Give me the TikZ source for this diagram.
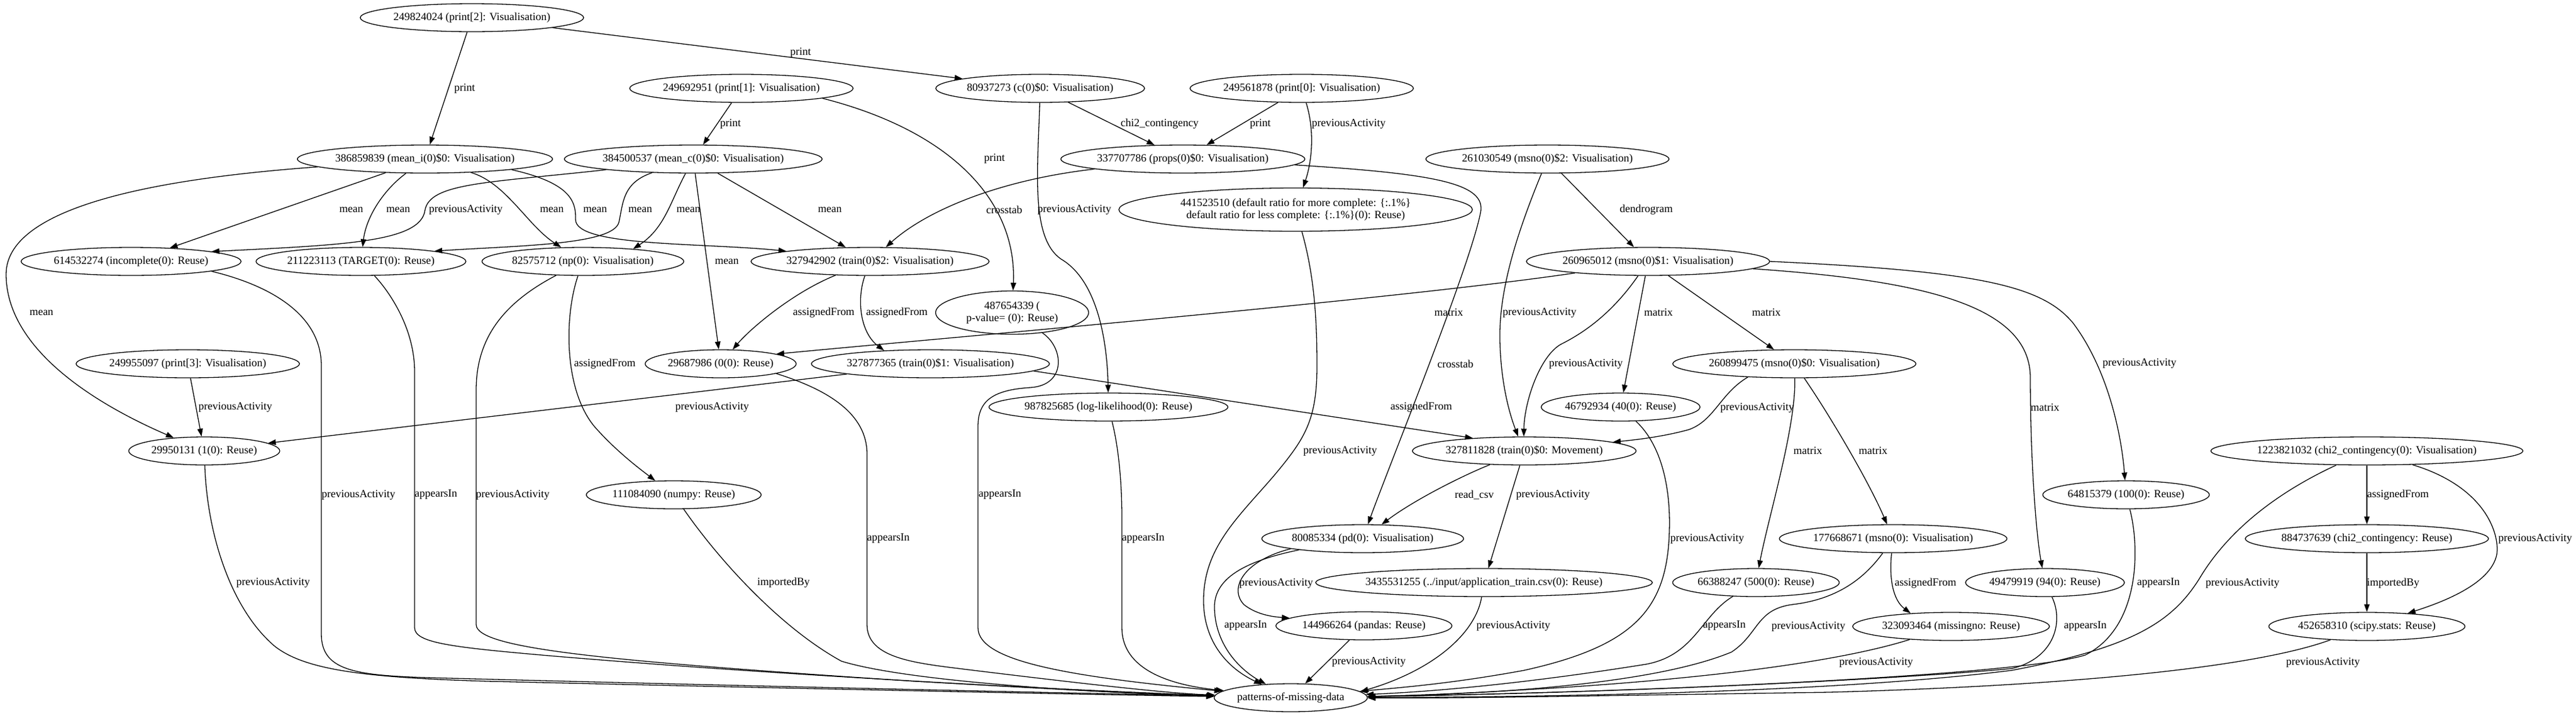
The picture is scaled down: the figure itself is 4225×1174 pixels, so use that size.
\documentclass[tikz,border=0pt]{standalone}
\usepackage{fontspec}
\setmainfont{Liberation Serif}
\usetikzlibrary{arrows.meta,shapes.geometric}

\begin{document}
\begin{tikzpicture}[x=0.02cm, y=-0.02cm,
	entity/.style={draw, ellipse, line width=0.74pt, inner xsep=0.5pt, inner ysep=1pt, minimum height=0.92cm, font=\fontsize{10.24}{11.4}\selectfont},
	twoline/.style={entity, align=center, minimum height=1.42cm},
	rel/.style={-{Triangle[length=7.3pt,width=5.1pt]}, line width=0.74pt},
	lbl/.style={inner sep=0pt, font=\fontsize{10.24}{11.4}\selectfont}]
	\useasboundingbox (0,0) rectangle (4225,1174);
	% Nodes:
	\node[entity] (pr2) at (774,29) {249824024 (print[2]: Visualisation)};
	\node[entity] (pr1) at (1216,145) {249692951 (print[1]: Visualisation)};
	\node[entity] (c0) at (1706,145) {80937273 (c(0)\$0: Visualisation)};
	\node[entity] (pr0) at (2135,145) {249561878 (print[0]: Visualisation)};
	\node[entity] (meani) at (697,261) {386859839 (mean\_i(0)\$0: Visualisation)};
	\node[entity] (meanc) at (1137,261) {384500537 (mean\_c(0)\$0: Visualisation)};
	\node[entity] (props) at (1940,261) {337707786 (props(0)\$0: Visualisation)};
	\node[entity] (msno2) at (2538,261) {261030549 (msno(0)\$2: Visualisation)};
	\node[twoline, minimum width=11.6cm] (ratio) at (2125,344) {441523510 (default ratio for more complete: \{:.1\%\}\\default ratio for less complete: \{:.1\%\}(0): Reuse)};
	\node[entity] (incompl) at (215,429) {614532274 (incomplete(0): Reuse)};
	\node[entity] (target) at (592,429) {211223113 (TARGET(0): Reuse)};
	\node[entity] (np) at (956,429) {82575712 (np(0): Visualisation)};
	\node[entity] (train2) at (1427,429) {327942902 (train(0)\$2: Visualisation)};
	\node[entity] (msno1) at (2703,429) {260965012 (msno(0)\$1: Visualisation)};
	\node[twoline, minimum width=5.02cm] (pval) at (1660,513) {487654339 (\\p-value= (0): Reuse)};
	\node[entity] (pr3) at (308,597) {249955097 (print[3]: Visualisation)};
	\node[entity] (zero) at (1182,597) {29687986 (0(0): Reuse)};
	\node[entity] (train1) at (1526,597) {327877365 (train(0)\$1: Visualisation)};
	\node[entity] (msno0) at (2943,597) {260899475 (msno(0)\$0: Visualisation)};
	\node[entity] (n40) at (2658,668) {46792934 (40(0): Reuse)};
	\node[entity] (loglik) at (1818,668) {987825685 (log-likelihood(0): Reuse)};
	\node[entity] (one) at (335,740) {29950131 (1(0): Reuse)};
	\node[entity] (train0) at (2500,740) {327811828 (train(0)\$0: Movement)};
	\node[entity] (chiv) at (3882,740) {1223821032 (chi2\_contingency(0): Visualisation)};
	\node[entity] (n100) at (3487,812) {64815379 (100(0): Reuse)};
	\node[entity] (numpy) at (1105,812) {111084090 (numpy: Reuse)};
	\node[entity] (pd) at (2235,884) {80085334 (pd(0): Visualisation)};
	\node[entity] (msnov) at (3105,884) {177668671 (msno(0): Visualisation)};
	\node[entity] (chir) at (3882,884) {884737639 (chi2\_contingency: Reuse)};
	\node[entity] (csv) at (2434,956) {3435531255 (../input/application\_train.csv(0): Reuse)};
	\node[entity] (n500) at (2880,956) {66388247 (500(0): Reuse)};
	\node[entity] (n94) at (3354,956) {49479919 (94(0): Reuse)};
	\node[entity] (pandas) at (2237,1027) {144966264 (pandas: Reuse)};
	\node[entity] (missingno) at (3200,1028) {323093464 (missingno: Reuse)};
	\node[entity] (scipy) at (3882,1028) {452658310 (scipy.stats: Reuse)};
	\node[entity] (pmd) at (2117,1145) {patterns-of-missing-data};
	% Edges:
	\draw[rel] (pr2) -- (meani) node[lbl] (e1) at (762,145) {print};
	\draw[rel] (pr2) -- (c0) node[lbl] (e2) at (1313,86) {print};
	\draw[rel] (pr1) -- (meanc) node[lbl] (e3) at (1198,203) {print};
	\draw[rel] (pr1.-7) .. controls (1560,215) and (1668,330) .. (pval) node[lbl] (e4) at (1631,260) {print};
	\draw[rel] (c0) -- (props) node[lbl] (e5) at (1902,203) {chi2\_contingency};
	\draw[rel] (c0) .. controls (1702,280) and (1690,390) .. (1740,425) .. controls (1800,460) and (1816,560) .. (loglik) node[lbl] (e6) at (1762,344) {previousActivity};
	\draw[rel] (pr0) -- (props) node[lbl] (e7) at (2067,203) {print};
	\draw[rel] (pr0) .. controls (2158,220) and (2150,270) .. (ratio) node[lbl] (e8) at (2212,203) {previousActivity};
	\draw[rel] (meani) -- (incompl) node[lbl] (e9) at (576,344) {mean};
	\draw[rel] (meani) .. controls (625,315) and (600,360) .. (target) node[lbl] (e10) at (653,344) {mean};
	\draw[rel] (meani) .. controls (300,290) and (10,330) .. (10,450) .. controls (10,570) and (150,660) .. (one) node[lbl] (e11) at (68,513) {mean};
	\draw[rel] (meani) .. controls (830,300) and (865,370) .. (np) node[lbl] (e12) at (905,344) {mean};
	\draw[rel] (meani.-7.5) .. controls (935,300) and (945,330) .. (944,360) .. controls (943,405) and (1150,398) .. (train2.173) node[lbl] (e13) at (976,344) {mean};
	\draw[rel] (meanc.187) .. controls (800,300) and (705,300) .. (697,345) .. controls (690,398) and (560,402) .. (incompl.7) node[lbl] (e14) at (764,344) {previousActivity};
	\draw[rel] (meanc) .. controls (1020,300) and (1022,335) .. (1015,365) .. controls (1005,402) and (850,403) .. (target.8) node[lbl] (e15) at (1050,344) {mean};
	\draw[rel] (meanc) .. controls (1100,330) and (1090,375) .. (np.14) node[lbl] (e16) at (1129,344) {mean};
	\draw[rel] (meanc) -- (zero) node[lbl] (e17) at (1192,429) {mean};
	\draw[rel] (meanc) -- (train2) node[lbl] (e18) at (1361,344) {mean};
	\draw[rel] (props) .. controls (1640,295) and (1520,345) .. (train2) node[lbl] (e19) at (1647,344) {crosstab};
	\draw[rel] (props.-3) .. controls (2350,285) and (2440,300) .. (2428,350) .. controls (2410,440) and (2280,760) .. (pd) node[lbl] (e20) at (2387,597) {crosstab};
	\draw[rel] (msno2) -- (msno1) node[lbl] (e21) at (2700,344) {dendrogram};
	\draw[rel] (msno2) .. controls (2485,390) and (2458,480) .. (2460,560) .. controls (2462,640) and (2480,690) .. (train0.113) node[lbl] (e22) at (2525,513) {previousActivity};
	\draw[rel] (msno1.189) .. controls (2300,490) and (1600,550) .. (zero.10) node[lbl] (e23) at (2376,513) {matrix};
	\draw[rel] (msno1) .. controls (2640,520) and (2590,550) .. (2560,565) .. controls (2525,585) and (2500,660) .. (train0.92) node[lbl] (e24) at (2601,597) {previousActivity};
	\draw[rel] (msno1) -- (n40) node[lbl] (e25) at (2720,513) {matrix};
	\draw[rel] (msno1) -- (msno0) node[lbl] (e26) at (2897,513) {matrix};
	\draw[rel] (msno1.-4) .. controls (3150,460) and (3330,500) .. (3330,620) .. controls (3330,760) and (3340,880) .. (n94) node[lbl] (e27) at (3354,669) {matrix};
	\draw[rel] (msno1.0) .. controls (3250,445) and (3350,470) .. (3400,530) .. controls (3460,610) and (3480,720) .. (n100) node[lbl] (e28) at (3509,596) {previousActivity};
	\draw[rel] (train2) .. controls (1300,480) and (1230,540) .. (zero) node[lbl] (e29) at (1351,513) {assignedFrom};
	\draw[rel] (train2) .. controls (1405,490) and (1410,545) .. (train1.164) node[lbl] (e30) at (1471,513) {assignedFrom};
	\draw[rel] (np) .. controls (925,520) and (925,640) .. (975,700) .. controls (1010,740) and (1050,770) .. (numpy) node[lbl] (e31) at (992,597) {assignedFrom};
	\draw[rel] (np) .. controls (820,500) and (781,560) .. (781,640) -- (781,1025) .. controls (781,1065) and (1000,1085) .. (1500,1118) .. controls (1800,1135) and (1900,1140) .. (pmd) node[lbl] (e32) at (841,812) {previousActivity};
	\draw[rel] (incompl.-7) .. controls (450,470) and (527,520) .. (527,600) -- (527,1040) .. controls (527,1100) and (580,1108) .. (700,1112) .. controls (1300,1128) and (1800,1138) .. (pmd) node[lbl] (e33) at (588,812) {previousActivity};
	\draw[rel] (target) .. controls (640,480) and (680,540) .. (680,610) -- (680,1030) .. controls (680,1055) and (740,1062) .. (900,1076) .. controls (1300,1110) and (1800,1135) .. (pmd) node[lbl] (e34) at (715,812) {appearsIn};
	\draw[rel] (one) .. controls (340,880) and (380,1000) .. (450,1060) .. controls (500,1100) and (600,1112) .. (800,1118) .. controls (1400,1132) and (1800,1140) .. (pmd) node[lbl] (e35) at (448,956) {previousActivity};
	\draw[rel] (pr3) -- (one) node[lbl] (e36) at (386,668) {previousActivity};
	\draw[rel] (train1.187) -- (one.7) node[lbl] (e37) at (1168,668) {previousActivity};
	\draw[rel] (train1.-4) -- (train0.166) node[lbl] (e38) at (2331,668) {assignedFrom};
	\draw[rel] (zero.-10) .. controls (1360,640) and (1422,680) .. (1422,745) -- (1422,1025) .. controls (1422,1080) and (1500,1088) .. (1580,1098) .. controls (1800,1125) and (1920,1138) .. (pmd) node[lbl] (e39) at (1457,884) {appearsIn};
	\draw[rel] (pval) .. controls (1745,570) and (1750,632) .. (1690,636) .. controls (1625,640) and (1604,660) .. (1604,700) -- (1604,1030) .. controls (1604,1085) and (1750,1110) .. (pmd) node[lbl] (e40) at (1640,812) {appearsIn};
	\draw[rel] (loglik) .. controls (1836,740) and (1840,800) .. (1840,850) -- (1840,1030) .. controls (1840,1090) and (1900,1122) .. (pmd) node[lbl] (e41) at (1875,884) {appearsIn};
	\draw[rel] (ratio) .. controls (2155,450) and (2160,520) .. (2160,600) .. controls (2160,690) and (2140,720) .. (2090,780) .. controls (2030,850) and (1972,900) .. (1974,990) .. controls (1976,1060) and (2020,1100) .. (pmd) node[lbl] (e42) at (2198,740) {previousActivity};
	\draw[rel] (train0) .. controls (2400,780) and (2320,820) .. (pd) node[lbl] (e43) at (2418,812) {read\_csv};
	\draw[rel] (train0) -- (csv) node[lbl] (e44) at (2547,812) {previousActivity};
	\draw[rel] (n40) .. controls (2725,730) and (2740,800) .. (2738,870) .. controls (2735,1000) and (2680,1060) .. (2500,1100) .. controls (2380,1122) and (2300,1128) .. (pmd) node[lbl] (e45) at (2800,884) {previousActivity};
	\draw[rel] (pd.188) .. controls (2040,920) and (2015,965) .. (2040,992) .. controls (2060,1008) and (2085,1012) .. (pandas.174) node[lbl] (e46) at (2093,957) {previousActivity};
	\draw[rel] (pd.190) .. controls (2020,925) and (1990,960) .. (1992,1000) .. controls (1994,1060) and (2035,1100) .. (pmd) node[lbl] (e47) at (2043,1027) {appearsIn};
	\draw[rel] (csv) .. controls (2420,1040) and (2350,1100) .. (pmd.5) node[lbl] (e48) at (2482,1027) {previousActivity};
	\draw[rel] (pandas) -- (pmd) node[lbl] (e49) at (2245,1086) {previousActivity};
	\draw[rel] (msno0.196) .. controls (2822,645) and (2812,690) .. (2770,705) .. controls (2730,716) and (2690,721) .. (train0) node[lbl] (e50) at (2882,669) {previousActivity};
	\draw[rel] (msno0) .. controls (2946,700) and (2900,850) .. (n500) node[lbl] (e51) at (2965,740) {matrix};
	\draw[rel] (msno0) .. controls (3000,680) and (3065,790) .. (msnov) node[lbl] (e52) at (3072,740) {matrix};
	\draw[rel] (n500) .. controls (2790,1010) and (2780,1075) .. (2700,1090) .. controls (2500,1122) and (2350,1135) .. (pmd) node[lbl] (e53) at (2828,1027) {appearsIn};
	\draw[rel] (msnov) .. controls (3098,950) and (3105,985) .. (missingno.162) node[lbl] (e54) at (3158,957) {assignedFrom};
	\draw[rel] (msnov) .. controls (3050,960) and (3000,985) .. (2940,992) .. controls (2880,1000) and (2885,1040) .. (2840,1070) .. controls (2700,1128) and (2400,1140) .. (pmd) node[lbl] (e55) at (2966,1028) {previousActivity};
	\draw[rel] (missingno) .. controls (3020,1085) and (2800,1115) .. (2500,1132) .. controls (2400,1138) and (2300,1142) .. (pmd) node[lbl] (e56) at (3077,1087) {previousActivity};
	\draw[rel] (n94) .. controls (3385,1020) and (3370,1080) .. (3300,1097) .. controls (3150,1112) and (2700,1136) .. (pmd) node[lbl] (e57) at (3420,1028) {appearsIn};
	\draw[rel] (n100) .. controls (3510,900) and (3510,1030) .. (3420,1075) .. controls (3300,1112) and (2600,1138) .. (pmd) node[lbl] (e58) at (3540,957) {appearsIn};
	\draw[rel] (chiv) -- (chir) node[lbl] (e59) at (3933,812) {assignedFrom};
	\draw[rel] (chiv) .. controls (4080,800) and (4100,880) .. (4095,910) .. controls (4085,960) and (4000,990) .. (scipy) node[lbl] (e60) at (4158,884) {previousActivity};
	\draw[rel] (chiv) .. controls (3720,815) and (3650,880) .. (3610,945) .. controls (3565,1020) and (3500,1062) .. (3300,1100) .. controls (3000,1138) and (2500,1144) .. (pmd) node[lbl] (e61) at (3678,957) {previousActivity};
	\draw[rel] (chir) -- (scipy) node[lbl] (e62) at (3925,957) {importedBy};
	\draw[rel] (scipy) .. controls (3700,1095) and (3400,1125) .. (3000,1136) .. controls (2600,1142) and (2400,1146) .. (pmd) node[lbl] (e63) at (3810,1087) {previousActivity};
	\draw[rel] (numpy) .. controls (1180,920) and (1280,1030) .. (1380,1085) .. controls (1500,1122) and (1850,1139) .. (pmd) node[lbl] (e64) at (1285,956) {importedBy};
\end{tikzpicture}
\end{document}
